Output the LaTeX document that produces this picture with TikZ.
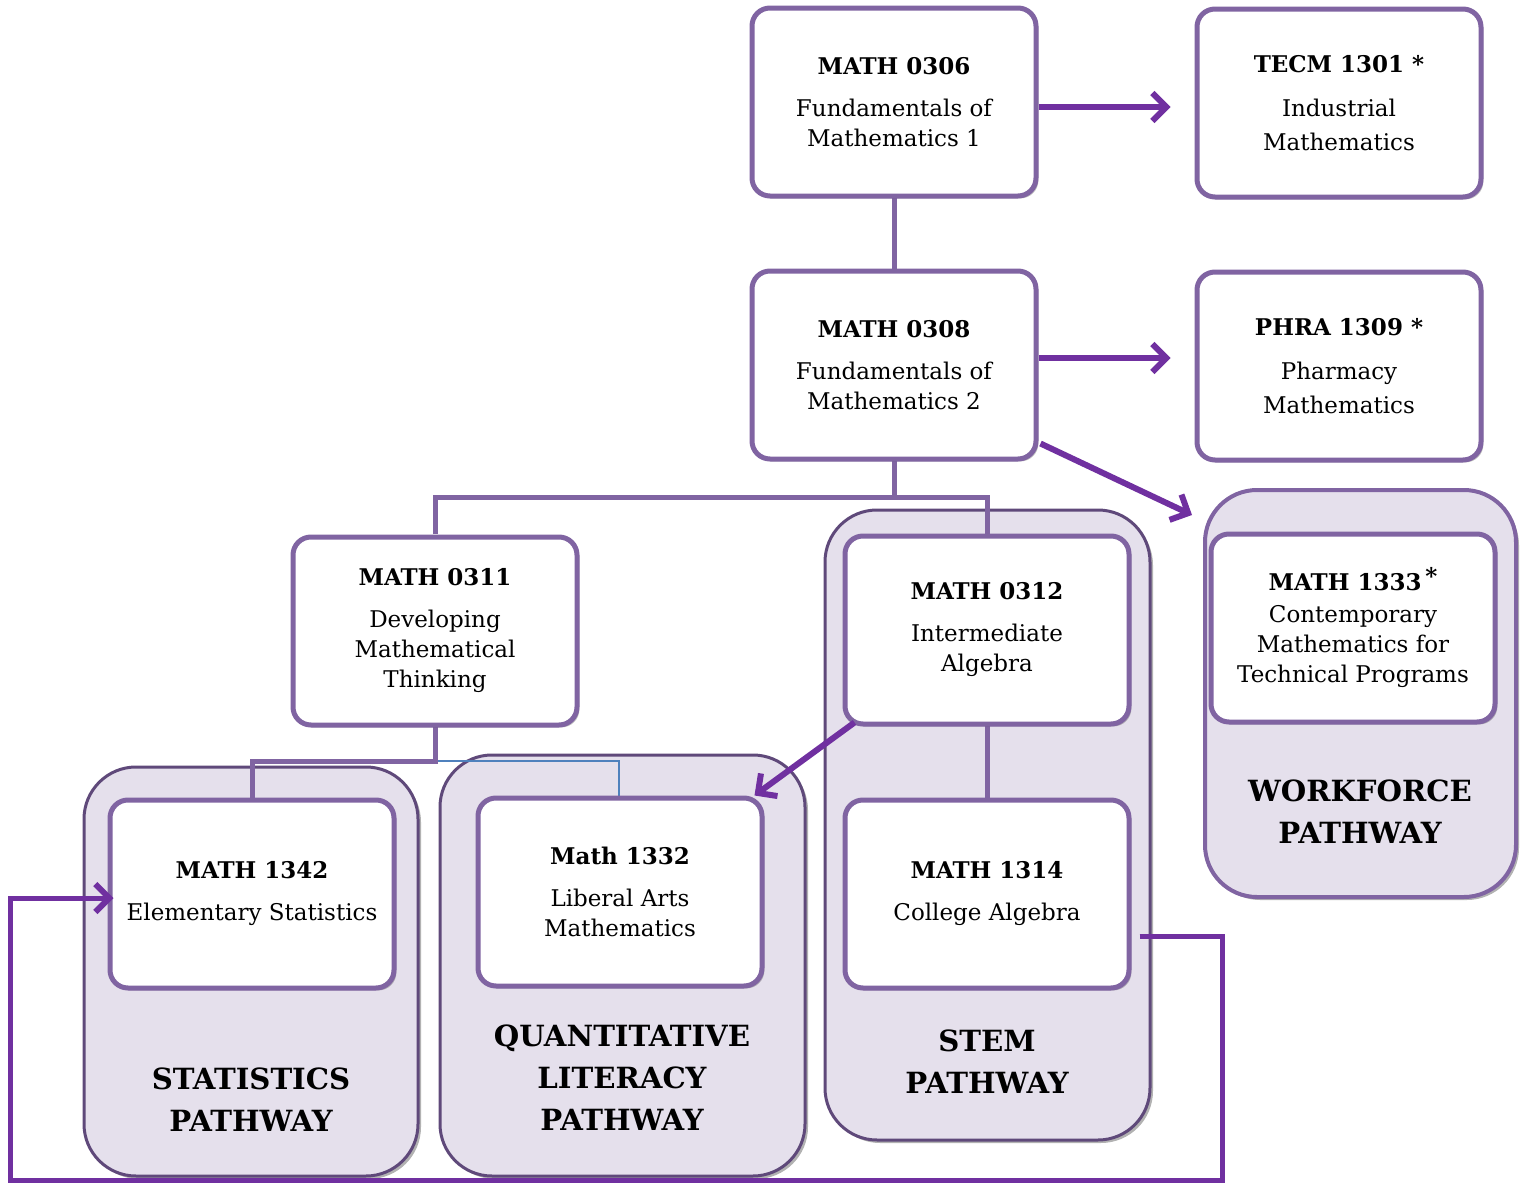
\documentclass[tikz,border=0pt]{standalone}
\usepackage{fontspec}
\setmainfont{DejaVu Serif}
\usetikzlibrary{arrows.meta,shadows,calc}
\definecolor{boxline}{HTML}{8064A2}
\definecolor{bgfill}{HTML}{E5E0EC}
\definecolor{bgline}{HTML}{5F497A}
\definecolor{arrowc}{HTML}{7030A0}
\definecolor{bluel}{HTML}{4F81BD}
\tikzset{
  cbox/.style={draw=boxline, line width=2.5pt, fill=white, rounded corners=9pt,
    minimum width=142pt, minimum height=94pt, align=center, inner sep=0pt,
    font=\fontsize{11.5}{15}\selectfont,
    drop shadow={shadow xshift=1.2pt, shadow yshift=-1.2pt, opacity=0.25, fill=black}},
  bgbox/.style={draw=bgline, line width=1.5pt, fill=bgfill, rounded corners=26pt,
    drop shadow={shadow xshift=1.5pt, shadow yshift=-1.5pt, opacity=0.3, fill=black}},
  ptitle/.style={font=\fontsize{14.6}{21}\selectfont\bfseries, align=center, inner sep=0pt},
  conn/.style={draw=boxline, line width=2.5pt},
  thinconn/.style={draw=bluel, line width=1pt},
  parrow/.style={draw=arrowc, line width=3pt, -{Straight Barb[length=7pt,width=14pt,line width=3pt]}},
  loopline/.style={draw=arrowc, line width=2.5pt, -{Straight Barb[length=7pt,width=14pt,line width=3pt]}},
  loopshadow/.style={draw=black, opacity=0.25, line width=2.5pt}
}
\newcommand{\ttl}[1]{{\bfseries #1}}
\begin{document}
\begin{tikzpicture}[x=0.5pt,y=-0.5pt]
\useasboundingbox (0,0) rectangle (1523,1183);

% background pathway containers
\path[bgbox] (825,510) rectangle (1150,1140);
\path[bgbox, draw=boxline, line width=2pt] (1205,490) rectangle (1516,897);
\path[bgbox] (84,767) rectangle (418,1176);
\path[bgbox] (440,755) rectangle (805,1176);

% connectors
\coordinate (j308) at (894,497);
\coordinate (j311) at (435,761);
\draw[conn] (894,196) -- (894,270);
\draw[conn] (894,460) -- (j308);
\draw[conn] (435,534) |- (j308) -| (987,536);
\draw[thinconn] (j311) -| (619,798);
\draw[conn] (435,722) -- (j311) -- (252,761) -- (252,798);
\draw[conn] (987,722) -- (987,798);

% course boxes
\node[cbox] (m306) at (894,102) {\ttl{MATH 0306}\\[6pt]Fundamentals of\\Mathematics 1};
\node[cbox] (tecm) at (1339,103) {\ttl{TECM 1301 *}\\[7pt]Industrial\\[2pt]Mathematics};
\node[cbox] (m308) at (894,365) {\ttl{MATH 0308}\\[6pt]Fundamentals of\\Mathematics 2};
\node[cbox] (phra) at (1339,366) {\ttl{PHRA 1309 *}\\[7pt]Pharmacy\\[2pt]Mathematics};
\node[cbox] (m311) at (435,631) {\ttl{MATH 0311}\\[6pt]Developing\\Mathematical\\Thinking};
\node[cbox] (m312) at (987,630) {\ttl{MATH 0312}\\[6pt]Intermediate\\Algebra};
\node[cbox] (m1333) at (1353,628) {\ttl{MATH 1333\,\raisebox{3pt}{*}}\\[1pt]Contemporary\\Mathematics for\\Technical Programs};
\node[cbox] (m1342) at (252,894) {\ttl{MATH 1342}\\[6pt]Elementary Statistics};
\node[cbox] (m1332) at (620,892) {\ttl{Math 1332}\\[6pt]Liberal Arts\\Mathematics};
\node[cbox] (m1314) at (987,894) {\ttl{MATH 1314}\\[6pt]College Algebra};

% pathway titles
\node[ptitle] (tstat) at (251,1100) {STATISTICS\\PATHWAY};
\node[ptitle] (tql) at (622,1078) {QUANTITATIVE\\LITERACY\\PATHWAY};
\node[ptitle] (tstem) at (987,1062) {STEM\\PATHWAY};
\node[ptitle] (twf) at (1360,812) {WORKFORCE\\PATHWAY};

% arrows
\coordinate (a3end) at (1192,515);
\draw[parrow] (m306.east |- 0,107) -- ([xshift=-12pt]tecm.west |- 0,107);
\draw[parrow] (m308.east |- 0,358) -- ([xshift=-12pt]phra.west |- 0,358);
\draw[parrow] ([xshift=1pt,yshift=9pt]m308.south east) -- (a3end);
\draw[parrow] ([xshift=6pt,yshift=2pt]m312.south west) -- ([xshift=-5pt]m1332.north east);

% loop from College Algebra to Elementary Statistics
\coordinate (l1) at (1222,936);
\coordinate (l2) at (1222,1180);
\coordinate (l3) at (10,1180);
\coordinate (l4) at (10,898);
\draw[loopshadow, shift={(1.5pt,-2pt)}]
  ([xshift=4pt]m1314.east |- l1) -- (l1) -- (l2) -- (l3) -- (l4) -- ([xshift=-3pt]l4 -| m1342.west);
\draw[loopline]
  ([xshift=4pt]m1314.east |- l1) -- (l1) -- (l2) -- (l3) -- (l4) -- ([xshift=3pt]l4 -| m1342.west);
\end{tikzpicture}
\end{document}
